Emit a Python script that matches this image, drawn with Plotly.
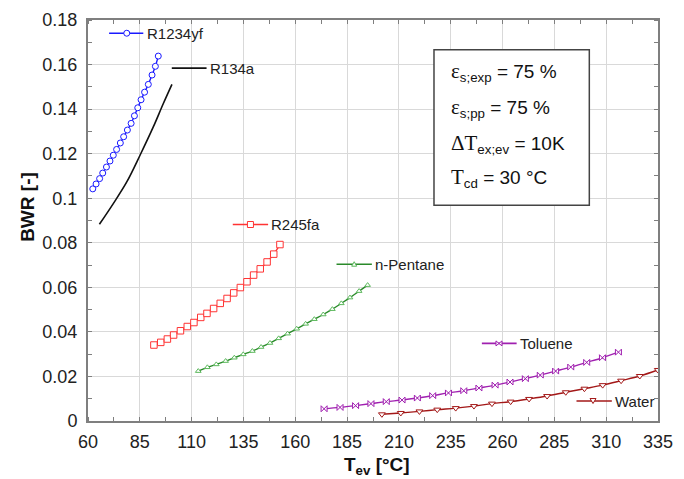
import plotly.graph_objects as go

# ---------------- data ----------------
r1234yf_T = [62.3, 63.9, 65.6, 67.1, 68.9, 70.6, 72.2, 73.8, 75.6, 77.2,
             79.0, 80.8, 82.4, 84.0, 85.6, 87.3, 89.1, 90.9, 92.5, 93.9]
r1234yf_bwr = [0.1042, 0.1064, 0.1088, 0.1113, 0.1140, 0.1167, 0.1193, 0.1219, 0.1248, 0.1276,
               0.1306, 0.1336, 0.1370, 0.1406, 0.1442, 0.1476, 0.1511, 0.1553, 0.1592, 0.1638]

r134a_T = [65.5, 72.2, 78.7, 85.1, 91.5, 96.3, 100.5]
r134a_bwr = [0.0883, 0.0976, 0.1073, 0.1193, 0.1320, 0.1424, 0.1511]

r245fa_T = [91.8, 95.1, 98.3, 101.3, 104.6, 107.9, 111.1, 114.4, 117.4, 120.6,
            123.8, 127.1, 130.3, 133.5, 136.7, 139.9, 143.1, 146.4, 149.6, 152.6]
r245fa_bwr = [0.0341, 0.0353, 0.0368, 0.0386, 0.0405, 0.0424, 0.0442, 0.0465, 0.0483, 0.0505,
              0.0528, 0.0550, 0.0575, 0.0599, 0.0625, 0.0655, 0.0683, 0.0714, 0.0749, 0.0792]

pentane_T = [113.2, 117.6, 121.9, 126.4, 130.6, 134.9, 139.3, 143.5, 147.8, 152.0,
             156.3, 160.7, 165.0, 169.2, 173.5, 177.9, 182.2, 186.4, 190.8, 194.9]
pentane_bwr = [0.0224, 0.0241, 0.0254, 0.0269, 0.0284, 0.0299, 0.0314, 0.0332, 0.0350, 0.0371,
               0.0392, 0.0414, 0.0436, 0.0457, 0.0478, 0.0502, 0.0528, 0.0554, 0.0583, 0.0610]

toluene_T = [173.9, 181.6, 189.1, 196.5, 203.9, 211.5, 218.9, 226.3, 233.9, 241.3,
             248.6, 256.4, 263.6, 271.0, 278.2, 285.6, 292.9, 300.6, 308.2, 315.9]
toluene_bwr = [0.0055, 0.0061, 0.0069, 0.0078, 0.0087, 0.0094, 0.0103, 0.0114, 0.0126, 0.0136,
               0.0148, 0.0161, 0.0175, 0.0190, 0.0206, 0.0224, 0.0242, 0.0263, 0.0284, 0.0309]

water_T = [201.8, 210.9, 219.9, 228.5, 237.4, 246.2, 254.9, 263.9, 272.8, 281.5,
           290.5, 299.5, 308.3, 317.2, 326.2, 334.9]
water_bwr = [0.0030, 0.0036, 0.0043, 0.0051, 0.0058, 0.0067, 0.0078, 0.0087, 0.0099, 0.0112,
             0.0129, 0.0145, 0.0161, 0.0181, 0.0202, 0.0229]

x_ticks = [60, 85, 110, 135, 160, 185, 210, 235, 260, 285, 310, 335]
y_ticks = [0, 0.02, 0.04, 0.06, 0.08, 0.1, 0.12, 0.14, 0.16, 0.18]

# ---------------- styles ----------------
C_BLUE = "#1a1aff"
C_BLACK = "#111111"
C_RED = "#ff3333"
C_GREEN = "#2a8a2a"
C_GREEN_M = "#5cb85c"
C_PURPLE = "#a020b0"
C_WATER = "#a31818"
SANS = "Liberation Sans, Arial, sans-serif"

fig = go.Figure()

def add(x, y, color, symbol=None, size=6, mcolor=None, shape="linear"):
    if symbol is None:
        fig.add_trace(go.Scatter(x=x, y=y, mode="lines", line=dict(color=color, width=1.6, shape=shape),
                                 showlegend=False, hoverinfo="x+y"))
    else:
        fig.add_trace(go.Scatter(x=x, y=y, mode="lines+markers", line=dict(color=color, width=1.4, shape="spline"),
                                 marker=dict(symbol=symbol, size=size, color="white",
                                             line=dict(color=mcolor or color, width=1)),
                                 showlegend=False, hoverinfo="x+y"))

add(r1234yf_T, r1234yf_bwr, C_BLUE, "circle", 6)
add(r134a_T, r134a_bwr, C_BLACK, shape="spline")
add(r245fa_T, r245fa_bwr, C_RED, "square", 6.5)
add(pentane_T, pentane_bwr, C_GREEN, "triangle-up", 5, C_GREEN_M)
add(toluene_T, toluene_bwr, C_PURPLE, "bowtie", 6)
add(water_T, water_bwr, C_WATER, "triangle-down", 6)

# ---------------- in-plot labels ----------------
labels = [
    # name, color, x0, x1, y, marker-x, marker type, text x
    ("R1234yf", C_BLUE, 0.037, 0.097, 0.967, 0.068, "circle", 0.100),
    ("R134a", C_BLACK, 0.147, 0.208, 0.880, None, None, 0.211),
    ("R245fa", C_RED, 0.254, 0.316, 0.490, 0.285, "square", 0.318),
    ("n-Pentane", C_GREEN, 0.436, 0.498, 0.391, 0.467, "tri_up", 0.500),
    ("Toluene", C_PURPLE, 0.691, 0.752, 0.1935, 0.721, "bowtie", 0.754),
    ("Water", C_WATER, 0.857, 0.919, 0.0498, 0.886, "tri_down", 0.921),
]
shapes = []
annotations = []
for name, col, x0, x1, yy, mx, mk, tx in labels:
    shapes.append(dict(type="line", xref="paper", yref="paper", x0=x0, x1=x1, y0=yy, y1=yy,
                       line=dict(color=col, width=1.6)))
    if mk is not None:
        base = dict(xref="paper", yref="paper", xsizemode="pixel", ysizemode="pixel",
                    xanchor=mx, yanchor=yy, fillcolor="white",
                    line=dict(color=C_GREEN_M if mk == "tri_up" else col, width=1))
        if mk == "circle":
            shapes.append(dict(type="circle", x0=-3, x1=3, y0=-3, y1=3, **base))
        elif mk == "square":
            shapes.append(dict(type="rect", x0=-3, x1=3, y0=-3, y1=3, **base))
        elif mk == "tri_up":
            shapes.append(dict(type="path", path="M -2.5 -2 L 2.5 -2 L 0 2.5 Z", **base))
        elif mk == "tri_down":
            shapes.append(dict(type="path", path="M -3 2.5 L 3 2.5 L 0 -2.5 Z", **base))
        elif mk == "bowtie":
            shapes.append(dict(type="path", path="M -3 -2.5 L 3 2.5 L 3 -2.5 L -3 2.5 Z", **base))
    annotations.append(dict(text=name, xref="paper", yref="paper", x=tx, y=yy, xanchor="left",
                            yanchor="middle", showarrow=False,
                            font=dict(family=SANS, size=15, color="#222")))

# parameter box
shapes.append(dict(type="rect", xref="paper", yref="paper", x0=0.607, x1=0.8795, y0=0.538, y1=0.926,
                   fillcolor="white", line=dict(color="#444", width=1.5), layer="above"))
SER = "font-family:'Liberation Serif','Times New Roman',serif;font-size:21px"
box_lines = [
    (f"<span style=\"{SER}\">ε</span><sub>s;exp</sub> = 75 %", 0.870),
    (f"<span style=\"{SER}\">ε</span><sub>s;pp</sub> = 75 %", 0.781),
    (f"<span style=\"{SER}\">ΔT</span><sub>ex;ev</sub> = 10K", 0.692),
    (f"<span style=\"{SER}\">T</span><sub>cd</sub> = 30 °C", 0.605),
]
for txt, yy in box_lines:
    annotations.append(dict(text=txt, xref="paper", yref="paper", x=0.633, y=yy, xanchor="left",
                            yanchor="middle", showarrow=False,
                            font=dict(family=SANS, size=19, color="#111")))

# axis titles
annotations.append(dict(text="<b>T<sub>ev</sub> [°C]</b>", xref="paper", yref="paper", x=0.507, y=-0.113,
                        xanchor="center", yanchor="middle", showarrow=False,
                        font=dict(family=SANS, size=19, color="#111")))
annotations.append(dict(text="<b>BWR [-]</b>", xref="paper", yref="paper", x=-0.106, y=0.533,
                        xanchor="center", yanchor="middle", showarrow=False, textangle=-90,
                        font=dict(family=SANS, size=19, color="#111")))

axis_common = dict(
    showgrid=True, gridcolor="#d9d9d9", gridwidth=1,
    showline=True, linecolor="#7f7f7f", linewidth=2, mirror="allticks",
    ticks="", zeroline=False, automargin=False,
    tickfont=dict(family=SANS, size=18, color="#222"),
)

# the page body adds an 8px offset, so the figure is sized/margined to compensate
fig.update_layout(
    width=676, height=471,
    margin=dict(l=80, r=26, t=12, b=58),
    paper_bgcolor="white", plot_bgcolor="white",
    showlegend=False,
    shapes=shapes, annotations=annotations,
    xaxis=dict(range=[60, 335], tickvals=x_ticks, **axis_common,
               minor=dict(dtick=12.5, tick0=60, ticks="inside", ticklen=4, tickwidth=1.2,
                          tickcolor="#7f7f7f", showgrid=False),
               ticklabelstandoff=3),
    yaxis=dict(range=[0, 0.18], tickvals=y_ticks, **axis_common,
               minor=dict(dtick=0.01, tick0=0, ticks="inside", ticklen=4, tickwidth=1.2,
                          tickcolor="#7f7f7f", showgrid=False),
               ticklabelstandoff=5),
)

fig.write_html("out.html")
